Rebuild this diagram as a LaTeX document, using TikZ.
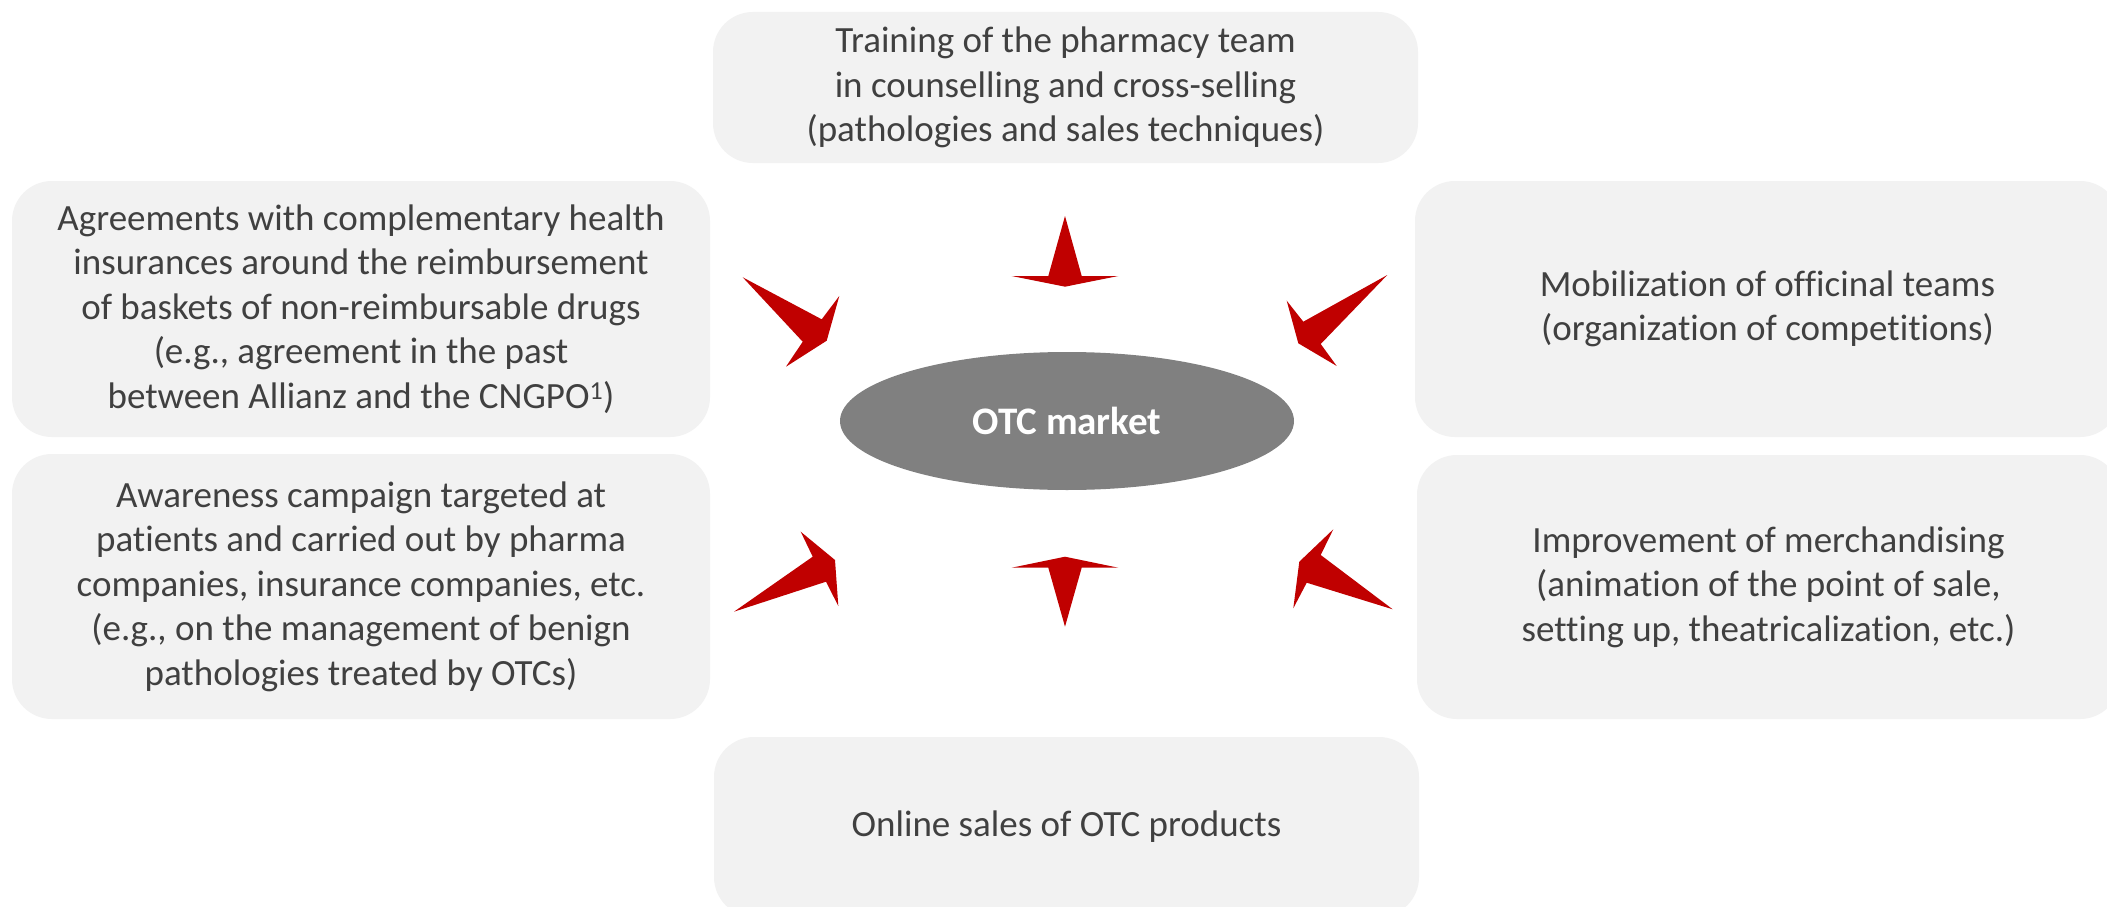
\documentclass[tikz,border=0pt]{standalone}
\usepackage{fontspec}
\setmainfont{Carlito}[Ligatures=NoCommon]
\usetikzlibrary{shapes.geometric}
\definecolor{boxfill}{HTML}{F2F2F2}
\definecolor{txt}{HTML}{404040}
\definecolor{ellfill}{HTML}{808080}
\definecolor{arrred}{HTML}{C00000}
\tikzset{
  infobox/.style={fill=boxfill, rounded corners=40pt, inner sep=0pt, align=center,
    text=txt, font=\fontsize{37}{44.5}\selectfont},
  redarrow/.style={fill=arrred, draw=none},
}
\begin{document}
\begin{tikzpicture}[x=1pt,y=-1pt]
\useasboundingbox (0,0) rectangle (2107,907);
\fill[white] (0,0) rectangle (2107,907);

\node[infobox, minimum width=705pt, minimum height=151pt] (top) at (1065.5,87.5)
  {Training of the pharmacy team\\in counselling and cross-selling\\(pathologies and sales techniques)};
\node[infobox, minimum width=698pt, minimum height=256pt] (lt) at (361,309)
  {Agreements with complementary health\\insurances around the reimbursement\\of baskets of non-reimbursable drugs\\(e.g., agreement in the past\\between Allianz and the CNGPO\textsuperscript{1})};
\node[infobox, minimum width=698pt, minimum height=265pt] (lb) at (361,586.5)
  {Awareness campaign targeted at\\patients and carried out by pharma\\companies, insurance companies, etc.\\(e.g., on the management of benign\\pathologies treated by OTCs)};
\node[infobox, minimum width=705pt, minimum height=256pt] (rt) at (1767.5,309)
  {Mobilization of officinal teams\\(organization of competitions)};
\node[infobox, minimum width=703pt, minimum height=264pt] (rb) at (1768.5,587)
  {Improvement of merchandising\\(animation of the point of sale,\\setting up, theatricalization, etc.)};
\node[infobox, minimum width=705pt, minimum height=180pt] (bot) at (1066.5,827)
  {Online sales of OTC products};

\node[ellipse, fill=ellfill, minimum width=454pt, minimum height=138pt, inner sep=0pt,
  text=white, font=\fontsize{39}{44}\selectfont\bfseries] (otc) at (1067,421) {OTC market};

% block arrows
\path[redarrow] (742.7,277.3) -- (821.7,319.3) -- (839.3,296) -- (826.7,340.7) -- (786,366.7) -- (802.7,341.7) -- cycle;
\path[redarrow] (1065,216) -- (1081.7,276) -- (1118.3,276) -- (1065,286.7) -- (1011.7,276) -- (1048.3,276) -- cycle;
\path[redarrow] (1387.3,275) -- (1303.3,321.7) -- (1286.7,300.7) -- (1298.3,343.3) -- (1336.7,366) -- (1320.7,344) -- cycle;
\path[redarrow] (734,611.7) -- (826,581.7) -- (838.3,606) -- (835,560) -- (800.7,531.7) -- (812.7,556.7) -- cycle;
\path[redarrow] (1065,556.7) -- (1118.3,567.7) -- (1081.7,567.7) -- (1065,626.7) -- (1048.3,567.7) -- (1011.7,567.7) -- cycle;
\path[redarrow] (1392.7,609.3) -- (1306.7,582.7) -- (1293.3,608.3) -- (1299.3,561.7) -- (1333.3,529.3) -- (1320.7,555) -- cycle;
\end{tikzpicture}
\end{document}
